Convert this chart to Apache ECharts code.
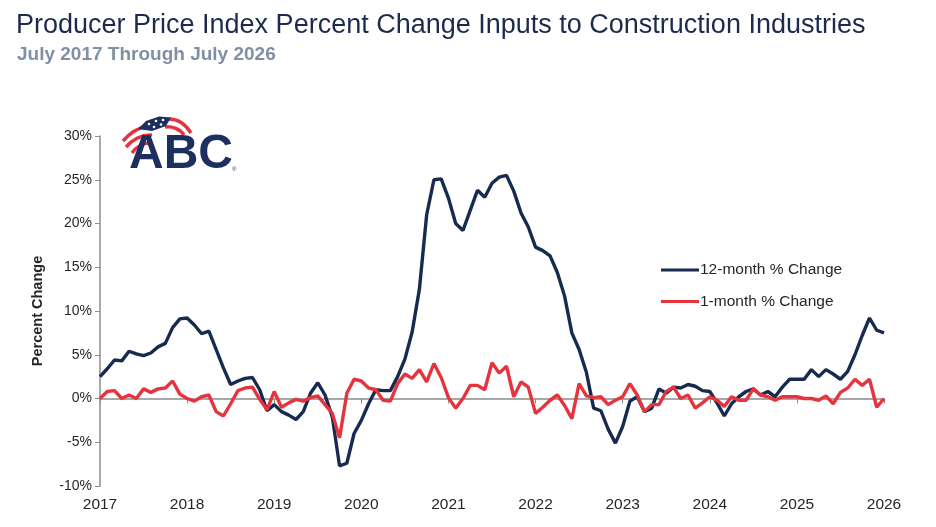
<!DOCTYPE html>
<html>
<head>
<meta charset="utf-8">
<title>PPI Inputs to Construction Industries</title>
<script src="https://cdn.jsdelivr.net/npm/echarts@6/dist/echarts.min.js"></script>
<style>
  html, body { margin: 0; padding: 0; background: #fff; }
  #Echarts1 { width: 936px; height: 527px; }
</style>
</head>
<body>
<div id="Echarts1"></div>
<script>
/************** 数据 ***************/
// 月份：2017年7月 至 2026年7月
var months = [];
for (var y = 2017; y <= 2026; y++) {
    for (var m = 1; m <= 12; m++) {
        if ((y === 2017 && m < 7) || (y === 2026 && m > 7)) continue;
        months.push(y + '-' + (m < 10 ? '0' + m : m));
    }
}

// 12个月变化率 (%)
var change12m = [
    2.5, 3.4, 4.4, 4.3, 5.4, 5.1, 4.9, 5.2, 5.9, 6.3, 8.1, 9.1,
    9.2, 8.4, 7.4, 7.7, 5.6, 3.5, 1.6, 2.0, 2.3, 2.4, 1.0, -1.4,
    -0.7, -1.5, -1.9, -2.4, -1.5, 0.6, 1.8, 0.4, -2.1, -7.7, -7.4, -4.0,
    -2.5, -0.6, 1.0, 0.9, 0.9, 2.5, 4.5, 7.6, 12.5, 21.0, 25.0, 25.1,
    22.9, 20.0, 19.2, 21.5, 23.8, 23.0, 24.6, 25.3, 25.5, 23.7, 21.2, 19.6,
    17.3, 16.9, 16.3, 14.4, 11.7, 7.5, 5.6, 3.0, -1.1, -1.4, -3.5, -5.1,
    -3.2, -0.3, 0.2, -1.5, -1.1, 1.1, 0.6, 1.3, 1.2, 1.6, 1.4, 0.9,
    0.8, -0.5, -2.0, -0.6, 0.2, 0.8, 1.1, 0.4, 0.8, 0.2, 1.3, 2.2,
    2.2, 2.2, 3.3, 2.5, 3.3, 2.8, 2.2, 3.1, 5.0, 7.2, 9.2, 7.8,
    7.5
];

// 1个月变化率 (%)
var change1m = [
    0.0, 0.8, 0.9, 0.0, 0.4, 0.0, 1.1, 0.7, 1.1, 1.2, 2.0, 0.5,
    0.0, -0.3, 0.2, 0.4, -1.5, -2.0, -0.6, 0.9, 1.2, 1.3, -0.1, -1.3,
    0.8, -1.0, -0.5, -0.1, -0.3, 0.1, 0.3, -0.7, -1.7, -4.5, 0.6, 2.2,
    2.0, 1.2, 1.0, -0.2, -0.3, 1.7, 2.8, 2.3, 3.3, 1.9, 4.0, 2.4,
    0.1, -1.1, 0.0, 1.5, 1.5, 1.0, 4.1, 2.9, 3.7, 0.2, 1.9, 1.3,
    -1.7, -1.0, -0.2, 0.4, -0.8, -2.3, 1.7, 0.3, 0.1, 0.2, -0.7, -0.2,
    0.2, 1.7, 0.4, -1.5, -0.7, -0.7, 0.8, 1.3, 0.0, 0.4, -1.1, -0.5,
    0.2, -0.2, -0.9, 0.2, -0.2, -0.2, 1.1, 0.4, 0.2, -0.2, 0.2, 0.2,
    0.2, 0.0, 0.0, -0.2, 0.3, -0.6, 0.7, 1.2, 2.2, 1.5, 2.2, -1.0,
    0.0
];

var seriesNames = ['12-month % Change', '1-month % Change'];
var yTicks = { min: -10, max: 30, step: 5 };

/************** 样式 ***************/
var NAVY = '#172a4f';
var RED = '#e6343f';
var LOGO_NAVY = '#1d2f5e';
var AXIS_GRAY = '#8c8c8c';
var FONT = 'Liberation Sans, Arial, sans-serif';

initChart();

/**
 * 初始化图表
 * */
function initChart() {
    var myChart = echarts.init(document.getElementById('Echarts1'));

    var option = {
        backgroundColor: '#fff',
        animation: false,
        textStyle: { fontFamily: FONT },
        title: [
            {
                text: 'Producer Price Index Percent Change Inputs to Construction Industries',
                left: 11,
                top: 7,
                textStyle: { fontSize: 27, fontWeight: 'normal', color: '#1c2b4d', fontFamily: FONT }
            },
            {
                text: 'July 2017 Through July 2026',
                left: 12,
                top: 40,
                textStyle: { fontSize: 19, fontWeight: 'bold', color: '#7f90a3', fontFamily: FONT }
            }
        ],
        legend: {
            orient: 'vertical',
            left: 656,
            top: 257,
            itemWidth: 38,
            itemHeight: 3,
            itemGap: 15.5,
            icon: 'rect',
            data: seriesNames,
            textStyle: { fontSize: 15.5, color: '#262626', fontFamily: FONT, padding: [0, 0, 0, -4] }
        },
        grid: {
            left: 100,
            right: 52,
            top: 136,
            bottom: 41,
            containLabel: false
        },
        xAxis: [
            {
                // 底部年份标签
                type: 'category',
                data: months,
                boundaryGap: false,
                position: 'bottom',
                axisLine: { show: false, onZero: false },
                axisTick: { show: false },
                axisLabel: {
                    interval: 11,
                    margin: 11,
                    fontSize: 15.5,
                    color: '#262626',
                    fontFamily: FONT,
                    formatter: function (v) { return v.slice(0, 4); }
                },
                splitLine: { show: false }
            },
            {
                // 零线与刻度
                type: 'category',
                data: months,
                boundaryGap: false,
                position: 'top',
                axisLine: { show: true, onZero: true, lineStyle: { color: AXIS_GRAY, width: 1.5 } },
                axisTick: { show: true, inside: true, interval: 11, length: 5, lineStyle: { color: AXIS_GRAY } },
                axisLabel: { show: false },
                splitLine: { show: false }
            }
        ],
        yAxis: {
            type: 'value',
            min: yTicks.min,
            max: yTicks.max,
            interval: yTicks.step,
            name: 'Percent Change',
            nameLocation: 'middle',
            nameGap: 55,
            nameRotate: 90,
            nameTextStyle: { fontSize: 14.5, fontWeight: 'bold', color: '#262626', fontFamily: FONT },
            axisLine: { show: true, lineStyle: { color: AXIS_GRAY, width: 1.5 } },
            axisTick: { show: true, length: 5, lineStyle: { color: AXIS_GRAY } },
            axisLabel: {
                fontSize: 14,
                color: '#262626',
                margin: 8,
                fontFamily: FONT,
                formatter: '{value}%'
            },
            splitLine: { show: false }
        },
        series: [
            {
                name: seriesNames[0],
                type: 'line',
                data: change12m,
                showSymbol: false,
                symbol: 'none',
                z: 3,
                lineStyle: { color: NAVY, width: 3.4 },
                itemStyle: { color: NAVY }
            },
            {
                name: seriesNames[1],
                type: 'line',
                data: change1m,
                showSymbol: false,
                symbol: 'none',
                z: 4,
                lineStyle: { color: RED, width: 3.4 },
                itemStyle: { color: RED }
            }
        ],
        graphic: [
            {
                // ABC 标志（近似绘制）
                type: 'group',
                x: 0,
                y: 0,
                children: [
                    // 红色条纹
                    { type: 'bezierCurve', shape: { x1: 123, y1: 141, x2: 147, y2: 126, cpx1: 129, cpy1: 134, cpx2: 138, cpy2: 128 },
                      style: { stroke: RED, lineWidth: 3.5, fill: null } },
                    { type: 'bezierCurve', shape: { x1: 126, y1: 147, x2: 152, y2: 135, cpx1: 132, cpy1: 140, cpx2: 142, cpy2: 134 },
                      style: { stroke: RED, lineWidth: 3.5, fill: null } },
                    { type: 'bezierCurve', shape: { x1: 132, y1: 153, x2: 150, y2: 143, cpx1: 136, cpy1: 147, cpx2: 143, cpy2: 143 },
                      style: { stroke: RED, lineWidth: 3.5, fill: null } },
                    { type: 'bezierCurve', shape: { x1: 169, y1: 119, x2: 191, y2: 133, cpx1: 178, cpy1: 119, cpx2: 186, cpy2: 125 },
                      style: { stroke: RED, lineWidth: 3.5, fill: null } },
                    { type: 'bezierCurve', shape: { x1: 165, y1: 127, x2: 184, y2: 135, cpx1: 172, cpy1: 126, cpx2: 180, cpy2: 129 },
                      style: { stroke: RED, lineWidth: 3.5, fill: null } },
                    // 蓝色星区
                    { type: 'polygon', shape: { points: [[138, 129], [146, 121], [159, 116.5], [171, 117.5], [166, 126], [152, 131]] },
                      style: { fill: LOGO_NAVY } },
                    { type: 'circle', shape: { cx: 149, cy: 124, r: 1.3 }, style: { fill: '#fff' } },
                    { type: 'circle', shape: { cx: 156, cy: 121, r: 1.3 }, style: { fill: '#fff' } },
                    { type: 'circle', shape: { cx: 163, cy: 120, r: 1.3 }, style: { fill: '#fff' } },
                    { type: 'circle', shape: { cx: 154, cy: 127, r: 1.3 }, style: { fill: '#fff' } },
                    { type: 'circle', shape: { cx: 161, cy: 124.5, r: 1.3 }, style: { fill: '#fff' } },
                    // 字母
                    { type: 'text', x: 129, y: 131,
                      style: { text: 'ABC', fontSize: 48, fontWeight: 'bold', fontFamily: FONT, fill: LOGO_NAVY } },
                    { type: 'text', x: 232, y: 166,
                      style: { text: '®', fontSize: 6, fontFamily: FONT, fill: LOGO_NAVY } }
                ]
            }
        ]
    };

    myChart.setOption(option);
}
</script>
</body>
</html>
